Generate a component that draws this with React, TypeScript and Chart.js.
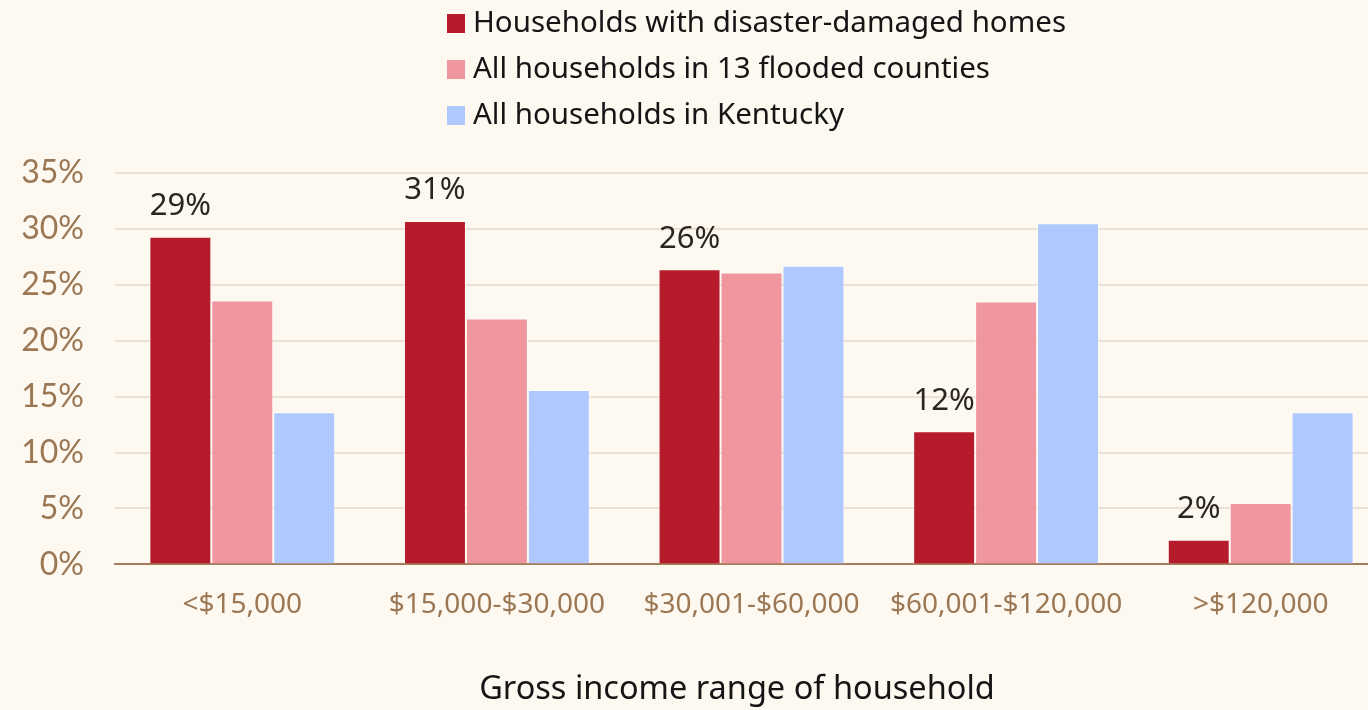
import React, { useEffect, useRef } from "react";
import { Chart, registerables } from "chart.js";

Chart.register(...registerables);

const categories = ["<$15,000", "$15,000-$30,000", "$30,001-$60,000", "$60,001-$120,000", ">$120,000"];
const damagedHomes = [29.3, 30.7, 26.4, 11.9, 2.2];
const floodedCounties = [23.6, 22.0, 26.1, 23.5, 5.5];
const kentucky = [13.6, 15.6, 26.7, 30.5, 13.6];
const seriesLabels = [
  "Households with disaster-damaged homes",
  "All households in 13 flooded counties",
  "All households in Kentucky",
];
const yTicks = [0, 5, 10, 15, 20, 25, 30, 35];
const xTitle = "Gross income range of household";

const BG = "#fdf8f0";
const COLORS = ["#b61b2c", "#ef969f", "#afc9fe"];

const bgPlugin = {
  id: "bg",
  beforeDraw(chart: any) {
    const { ctx } = chart;
    ctx.save();
    ctx.fillStyle = BG;
    ctx.fillRect(0, 0, chart.width, chart.height);
    ctx.restore();
  },
};

const labelsPlugin = {
  id: "labelsAndLegend",
  afterDatasetsDraw(chart: any) {
    const { ctx } = chart;
    ctx.save();
    // data labels on first series
    const meta = chart.getDatasetMeta(0);
    ctx.font = "31px 'Noto Sans'";
    ctx.fillStyle = "#2a2520";
    ctx.textAlign = "center";
    ctx.textBaseline = "bottom";
    meta.data.forEach((bar: any, i: number) => {
      const v = chart.data.datasets[0].data[i];
      ctx.fillText(Math.round(v) + "%", bar.x, bar.y - 15);
    });
    // legend
    ctx.textAlign = "left";
    ctx.textBaseline = "middle";
    ctx.font = "29.5px 'Noto Sans'";
    chart.data.datasets.forEach((ds: any, i: number) => {
      const cy = 23 + i * 46;
      ctx.fillStyle = ds.backgroundColor;
      ctx.fillRect(447, cy - 9, 18, 19);
      ctx.fillStyle = "#151515";
      ctx.fillText(ds.label, 473, cy + 1);
    });
    // x axis title
    ctx.textAlign = "center";
    ctx.font = "32.5px 'Noto Sans'";
    ctx.fillStyle = "#151515";
    ctx.fillText(xTitle, 737, 690);
    ctx.restore();
  },
};

export default function App() {
  const ref = useRef<HTMLCanvasElement>(null);
  useEffect(() => {
    document.body.style.margin = "0";
    document.body.style.background = BG;
    const chart = new Chart(ref.current!, {
      type: "bar",
      data: {
        labels: categories,
        datasets: [damagedHomes, floodedCounties, kentucky].map((d, i) => ({
          label: seriesLabels[i],
          data: d,
          backgroundColor: COLORS[i],
          borderColor: "rgba(255,255,255,0.5)",
          borderWidth: 1,
          categoryPercentage: 0.73,
          barPercentage: 1.0,
        })),
      },
      options: {
        responsive: false,
        animation: false,
        devicePixelRatio: 1,
        layout: { padding: { top: 173, bottom: 64, left: 0, right: 0 } },
        plugins: {
          legend: { display: false },
          tooltip: { enabled: false },
        },
        scales: {
          x: {
            grid: { display: false, drawTicks: false },
            border: { display: true, color: "#a57d5c", width: 2 },
            ticks: {
              color: "#9b7754",
              font: { family: "'Noto Sans'", size: 28 },
              padding: 24,
              maxRotation: 0,
            },
          },
          y: {
            min: 0,
            max: 35,
            afterBuildTicks(axis: any) {
              axis.ticks = yTicks.map((v) => ({ value: v }));
            },
            afterFit(axis: any) {
              axis.width = 115;
            },
            grid: { color: "#ebe1d3", lineWidth: 2, drawTicks: false },
            border: { display: false },
            ticks: {
              color: "#9b7754",
              font: { family: "Lato", size: 32 },
              padding: 31,
              callback: (v: any) => v + "%",
            },
          },
        },
      },
      plugins: [bgPlugin, labelsPlugin],
    });
    return () => chart.destroy();
  }, []);
  return (
    <div style={{ width: 1368, height: 710, overflow: "hidden", background: BG }}>
      <canvas ref={ref} width={1388} height={710} style={{ display: "block" }} />
    </div>
  );
}
